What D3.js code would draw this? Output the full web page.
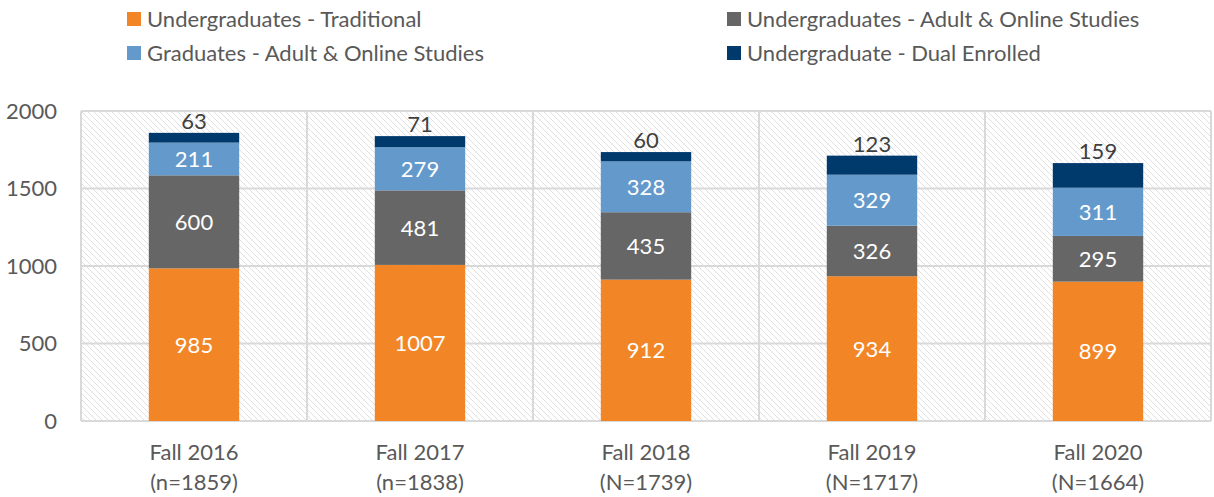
<!DOCTYPE html>
<html><head><meta charset="utf-8">
<script src="https://cdn.jsdelivr.net/npm/d3@7"></script>
<style>body{margin:0;background:#fff;}svg{display:block;font-family:Lato,"Open Sans",sans-serif;}</style>
</head><body><svg id="c" width="1214" height="497"></svg>
<script>
const categories = ["Fall 2016","Fall 2017","Fall 2018","Fall 2019","Fall 2020"];
const nLabels = ["(n=1859)","(n=1838)","(N=1739)","(N=1717)","(N=1664)"];
const seriesNames = ["Undergraduates - Traditional","Undergraduates - Adult & Online Studies","Graduates - Adult & Online Studies","Undergraduate - Dual Enrolled"];
const tradVals = [985,1007,912,934,899];
const ugAdultVals = [600,481,435,326,295];
const gradVals = [211,279,328,329,311];
const dualVals = [63,71,60,123,159];
const yTicks = [0,500,1000,1500,2000];
const colors = ["#F28627","#666666","#6499CC","#003A6D"];

const FS = 22;
const svg = d3.select("#c");
const m = {l:81, r:1211, t:111, b:421};
const x = d3.scaleBand().domain(categories).range([m.l,m.r]).paddingInner(0.6).paddingOuter(0.3);
const xb = d3.scaleBand().domain(categories).range([m.l,m.r]);
const y = d3.scaleLinear().domain([0,2000]).range([m.b,m.t]);

const defs = svg.append("defs");
const pat = defs.append("pattern").attr("id","hatch").attr("patternUnits","userSpaceOnUse").attr("width",6).attr("height",6);
pat.append("path").attr("d","M-1,-1 L7,7 M-4,2 L2,8 M4,-2 L8,2").attr("stroke","#e0e0e0").attr("stroke-width",1);
svg.append("rect").attr("x",m.l).attr("y",m.t).attr("width",m.r-m.l).attr("height",m.b-m.t).attr("fill","url(#hatch)");

// gridlines
svg.append("g").selectAll("line").data(yTicks).join("line")
  .attr("x1",m.l).attr("x2",m.r).attr("y1",d=>y(d)).attr("y2",d=>y(d))
  .attr("stroke","#d9d9d9").attr("stroke-width",2);
const bounds = categories.map(c=>xb(c)).concat([m.r]);
svg.append("g").selectAll("line").data(bounds).join("line")
  .attr("x1",d=>d).attr("x2",d=>d).attr("y1",m.t).attr("y2",m.b)
  .attr("stroke","#d9d9d9").attr("stroke-width",2);

// y axis labels
const yAxis = d3.axisLeft(y).tickValues(yTicks).tickFormat(d3.format("d")).tickSize(0).tickPadding(24);
const ya = svg.append("g").attr("transform",`translate(${m.l},0)`).call(yAxis);
ya.select(".domain").remove();
ya.selectAll("text").attr("font-size",FS).attr("fill","#595959").attr("font-family","Lato,'Open Sans',sans-serif");

// stacks
const rows = categories.map((c,i)=>({cat:c, s0:tradVals[i], s1:ugAdultVals[i], s2:gradVals[i], s3:dualVals[i]}));
const stack = d3.stack().keys(["s0","s1","s2","s3"])(rows);
const g = svg.append("g");
stack.forEach((layer,k)=>{
  g.append("g").selectAll("rect").data(layer).join("rect")
    .attr("x",d=>x(d.data.cat)).attr("width",x.bandwidth())
    .attr("y",d=>y(d[1])).attr("height",d=>y(d[0])-y(d[1]))
    .attr("fill",colors[k]);
  g.append("g").selectAll("text").data(layer).join("text")
    .attr("x",d=>x(d.data.cat)+x.bandwidth()/2)
    .attr("y",d=> k===3 ? y(d[1])-4 : (y(d[0])+y(d[1]))/2+8)
    .attr("text-anchor","middle").attr("font-size",FS)
    .attr("fill", k===3 ? "#404040" : "#ffffff")
    .text(d=>d.data["s"+k]);
});

// x labels
const xl = svg.append("g");
categories.forEach((c,i)=>{
  const cx = xb(c)+xb.bandwidth()/2;
  xl.append("text").attr("x",cx).attr("y",460).attr("text-anchor","middle").attr("font-size",FS).attr("fill","#595959").text(c);
  xl.append("text").attr("x",cx).attr("y",490).attr("text-anchor","middle").attr("font-size",FS).attr("fill","#595959").text(nLabels[i]);
});

// legend
const legPos = [[127,12],[727,12],[127,46],[727,46]];
seriesNames.forEach((n,i)=>{
  const [lx,ly] = legPos[i];
  svg.append("rect").attr("x",lx).attr("y",ly).attr("width",14).attr("height",14).attr("fill",colors[i]);
  svg.append("text").attr("x",lx+20).attr("y",ly+15).attr("font-size",FS).attr("fill","#595959").text(n);
});
</script></body></html>
